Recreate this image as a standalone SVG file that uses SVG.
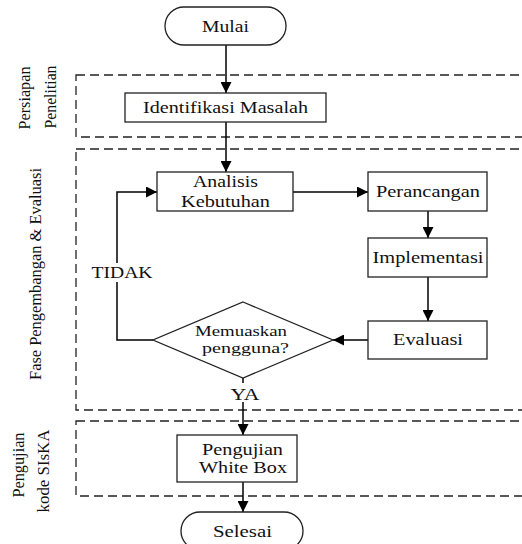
<svg xmlns="http://www.w3.org/2000/svg" width="522" height="544" viewBox="0 0 522 544">
<style>
text{font-family:'Liberation Serif','DejaVu Serif','Times New Roman',serif;font-size:17px;fill:#111}
.box{fill:#fff;stroke:#222;stroke-width:1.3}
.lane{fill:none;stroke:#222;stroke-width:1.3;stroke-dasharray:9,5}
.c{fill:none;stroke:#000;stroke-width:1.5}
.lbl{text-anchor:middle}
.sm{font-size:15.5px}
</style>
<defs>
<marker id="arr" markerUnits="userSpaceOnUse" markerWidth="11" markerHeight="11" refX="11" refY="5.5" orient="auto">
<path d="M0,0 L11,5.5 L0,11 z" fill="#000"/>
</marker>
</defs>
<rect width="522" height="544" fill="#fff"/>

<g id="lanes">
<rect class="lane" x="76" y="75" width="452" height="62"/>
<rect class="lane" x="76" y="149" width="452" height="261"/>
<rect class="lane" x="76" y="421" width="452" height="75"/>
</g>

<g id="lane-labels">
<text transform="translate(30,98) rotate(-90)" class="lbl" textLength="63" lengthAdjust="spacingAndGlyphs">Persiapan</text>
<text transform="translate(56,97) rotate(-90)" class="lbl" textLength="63" lengthAdjust="spacingAndGlyphs">Penelitian</text>
<text transform="translate(41,274) rotate(-90)" class="lbl" textLength="212" lengthAdjust="spacingAndGlyphs">Fase Pengembangan &amp; Evaluasi</text>
<text transform="translate(24,465) rotate(-90)" class="lbl" textLength="65" lengthAdjust="spacingAndGlyphs">Pengujian</text>
<text transform="translate(49,471) rotate(-90)" class="lbl" textLength="83" lengthAdjust="spacingAndGlyphs">kode SIsKA</text>
</g>

<g id="connectors">
<line class="c" x1="226" y1="45" x2="226" y2="93" marker-end="url(#arr)"/>
<line class="c" x1="226" y1="122" x2="226" y2="172" marker-end="url(#arr)"/>
<line class="c" x1="293" y1="192" x2="368" y2="192" marker-end="url(#arr)"/>
<line class="c" x1="428" y1="211" x2="428" y2="238" marker-end="url(#arr)"/>
<line class="c" x1="428" y1="277" x2="428" y2="321" marker-end="url(#arr)"/>
<line class="c" x1="368" y1="340" x2="333" y2="340" marker-end="url(#arr)"/>
<polyline class="c" points="153,340 117,340 117,192 157,192" marker-end="url(#arr)"/>
<line class="c" x1="243" y1="378" x2="243" y2="435" marker-end="url(#arr)"/>
<line class="c" x1="243" y1="482" x2="243" y2="512" marker-end="url(#arr)"/>
<rect x="88" y="263" width="68" height="19" fill="#fff"/>
<text x="122" y="278" class="lbl" textLength="61" lengthAdjust="spacingAndGlyphs">TIDAK</text>
<rect x="228" y="383" width="34" height="19" fill="#fff"/>
<text x="245" y="400" class="lbl" textLength="29" lengthAdjust="spacingAndGlyphs">YA</text>
</g>

<g id="mulai">
<rect class="box" x="165" y="7" width="121" height="38" rx="19" ry="19"/>
<text x="225.5" y="32" class="lbl" textLength="47" lengthAdjust="spacingAndGlyphs">Mulai</text>
</g>

<g id="identifikasi">
<rect class="box" x="125" y="93" width="201" height="29"/>
<text x="225.5" y="113" class="lbl" textLength="165" lengthAdjust="spacingAndGlyphs">Identifikasi Masalah</text>
</g>

<g id="analisis">
<rect class="box" x="157" y="172" width="136" height="39"/>
<text x="225.5" y="187" class="lbl" textLength="65" lengthAdjust="spacingAndGlyphs">Analisis</text>
<text x="225.5" y="207" class="lbl" textLength="89" lengthAdjust="spacingAndGlyphs">Kebutuhan</text>
</g>

<g id="perancangan">
<rect class="box" x="368" y="172" width="119" height="39"/>
<text x="428" y="197" class="lbl" textLength="104" lengthAdjust="spacingAndGlyphs">Perancangan</text>
</g>

<g id="implementasi">
<rect class="box" x="368" y="238" width="119" height="39"/>
<text x="428" y="263" class="lbl" textLength="111" lengthAdjust="spacingAndGlyphs">Implementasi</text>
</g>

<g id="evaluasi">
<rect class="box" x="368" y="321" width="119" height="38"/>
<text x="428" y="345" class="lbl" textLength="70" lengthAdjust="spacingAndGlyphs">Evaluasi</text>
</g>

<g id="keputusan">
<polygon class="box" points="243,302 333,340 243,378 153,340"/>
<text x="241" y="336" class="lbl sm" textLength="92" lengthAdjust="spacingAndGlyphs">Memuaskan</text>
<text x="245.5" y="353" class="lbl sm" textLength="87" lengthAdjust="spacingAndGlyphs">pengguna?</text>
</g>

<g id="pengujian">
<rect class="box" x="177" y="435" width="120" height="47"/>
<text x="242.5" y="455" class="lbl" textLength="81" lengthAdjust="spacingAndGlyphs">Pengujian</text>
<text x="243" y="473" class="lbl" textLength="88" lengthAdjust="spacingAndGlyphs">White Box</text>
</g>

<g id="selesai">
<rect class="box" x="181" y="512" width="122" height="38" rx="19" ry="19"/>
<text x="242.5" y="537" class="lbl" textLength="59" lengthAdjust="spacingAndGlyphs">Selesai</text>
</g>
</svg>
